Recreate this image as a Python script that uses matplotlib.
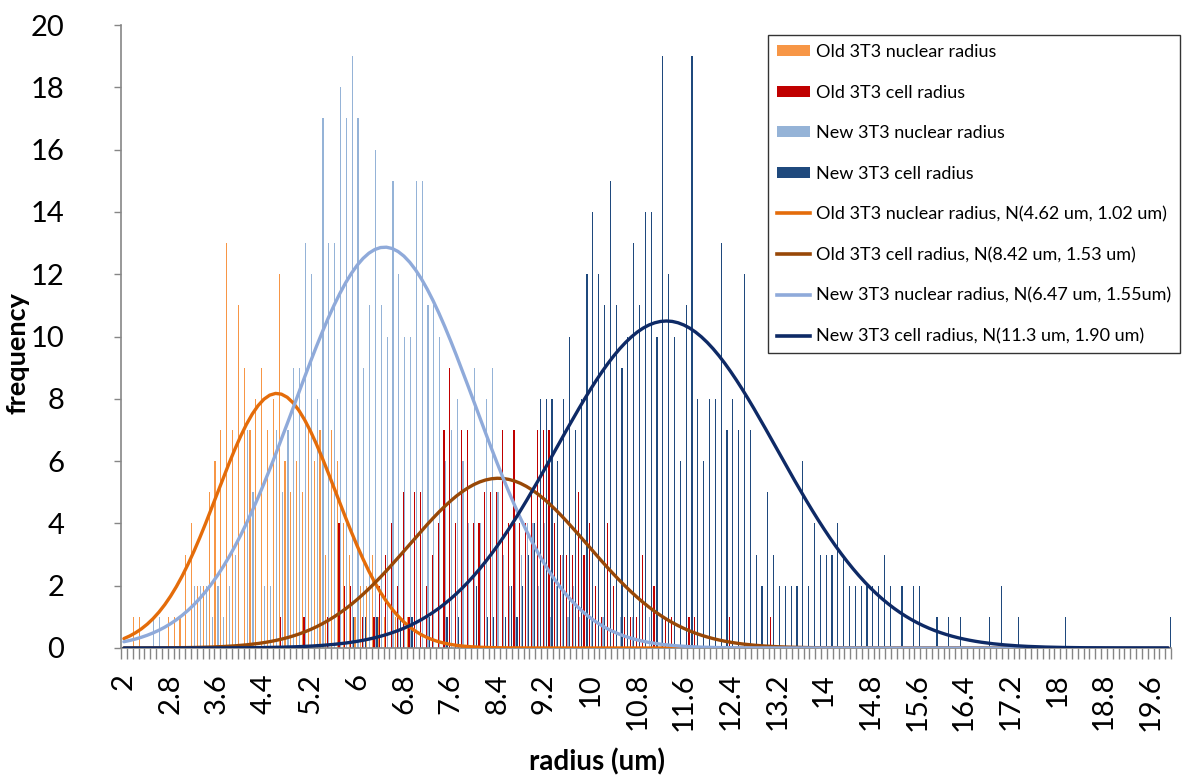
import numpy as np
import matplotlib
matplotlib.use("Agg")
import matplotlib.pyplot as plt
from matplotlib.patches import Patch
from matplotlib.lines import Line2D

plt.rcParams['font.family'] = ['Lato', 'DejaVu Sans']

# Histogram bins: 2.0 .. 19.9 um in 0.1 um steps (bin label = lower edge)
bin_start = 2.0
bin_width = 0.1
n_bins = 180
radius = np.round(bin_start + bin_width * np.arange(n_bins), 1)

# Counts per bin, keyed by bin radius (empty bins omitted)
old_nuclear_counts = {
    2.2: 1, 2.3: 1, 2.8: 1, 2.9: 1, 3.0: 1, 3.1: 3, 3.2: 4, 3.3: 2, 3.4: 2,
    3.5: 5, 3.6: 6, 3.7: 7, 3.8: 13, 3.9: 7, 4.0: 11, 4.1: 9, 4.2: 7, 4.3: 8,
    4.4: 9, 4.5: 7, 4.6: 8, 4.7: 12, 4.8: 6, 4.9: 5, 5.0: 6, 5.1: 5, 5.2: 7,
    5.3: 6, 5.4: 7, 5.5: 3, 5.6: 7, 5.7: 6, 5.8: 4, 5.9: 3, 6.0: 1, 6.1: 2,
    6.2: 2, 6.3: 3, 6.4: 1, 6.5: 1, 6.7: 1, 6.9: 1,
}
old_cell_counts = {
    4.7: 1, 5.1: 1, 5.5: 1, 5.7: 4, 5.8: 2, 5.9: 2, 6.1: 1, 6.3: 1, 6.4: 2,
    6.5: 3, 6.6: 4, 6.7: 2, 6.8: 5, 6.9: 1, 7.0: 5, 7.1: 5, 7.2: 2, 7.3: 3,
    7.4: 4, 7.5: 7, 7.6: 9, 7.7: 4, 7.8: 7, 7.9: 7, 8.0: 4, 8.1: 4, 8.2: 5,
    8.3: 5, 8.4: 5, 8.5: 7, 8.6: 4, 8.7: 7, 8.8: 4, 8.9: 4, 9.0: 5, 9.1: 7,
    9.2: 7, 9.3: 7, 9.4: 4, 9.5: 3, 9.6: 3, 9.7: 3, 9.8: 5, 9.9: 3, 10.0: 4,
    10.1: 2, 10.2: 1, 10.3: 4, 10.4: 2, 10.6: 1, 10.7: 1, 10.8: 1, 10.9: 3,
    11.1: 2, 11.3: 1, 11.4: 1, 11.7: 1, 11.8: 1, 12.4: 1, 13.1: 1,
}
new_nuclear_counts = {
    2.5: 1, 2.6: 1, 3.2: 2, 3.3: 2, 3.4: 2, 3.5: 1, 3.6: 2, 3.7: 1, 3.8: 2,
    3.9: 3, 4.1: 7, 4.2: 5, 4.4: 2, 4.5: 2, 4.6: 7, 4.7: 5, 4.8: 7, 4.9: 9,
    5.0: 9, 5.1: 13, 5.2: 12, 5.3: 8, 5.4: 17, 5.5: 13, 5.6: 13, 5.7: 18,
    5.8: 17, 5.9: 19, 6.0: 17, 6.1: 9, 6.2: 11, 6.3: 16, 6.4: 11, 6.5: 10,
    6.6: 15, 6.7: 12, 6.8: 10, 6.9: 10, 7.0: 15, 7.1: 15, 7.2: 11, 7.3: 11,
    7.4: 10, 7.5: 6, 7.6: 7, 7.7: 8, 7.8: 6, 7.9: 4, 8.0: 9, 8.1: 4, 8.2: 8,
    8.3: 9, 8.4: 5, 8.5: 3, 8.6: 2, 8.7: 4, 8.8: 3, 8.9: 4, 9.0: 4, 9.1: 2,
    9.2: 4, 9.3: 1, 9.4: 2, 9.5: 3, 9.6: 1, 9.7: 2, 9.8: 1, 10.0: 1, 10.2: 1,
    10.5: 1, 10.7: 1, 11.0: 1, 11.2: 1,
}
new_cell_counts = {
    5.9: 1, 6.1: 1, 6.3: 1, 6.7: 1, 6.9: 1, 7.2: 1, 7.5: 1, 7.7: 1, 8.0: 2,
    8.2: 1, 8.3: 1, 8.5: 1, 8.6: 2, 8.7: 1, 8.8: 2, 8.9: 3, 9.0: 4, 9.1: 8,
    9.2: 8, 9.3: 8, 9.4: 6, 9.5: 8, 9.6: 10, 9.7: 7, 9.8: 8, 9.9: 12,
    10.0: 14, 10.1: 12, 10.2: 11, 10.3: 15, 10.4: 11, 10.5: 9, 10.6: 10,
    10.7: 13, 10.8: 11, 10.9: 14, 11.0: 14, 11.1: 10, 11.2: 19, 11.3: 12,
    11.4: 10, 11.5: 6, 11.6: 11, 11.7: 19, 11.8: 8, 11.9: 6, 12.0: 8,
    12.1: 8, 12.2: 13, 12.3: 7, 12.4: 8, 12.5: 7, 12.6: 12, 12.7: 7, 12.8: 3,
    12.9: 2, 13.0: 5, 13.1: 3, 13.2: 2, 13.3: 2, 13.4: 2, 13.5: 2, 13.6: 6,
    13.7: 2, 13.8: 4, 13.9: 3, 14.0: 3, 14.1: 3, 14.2: 4, 14.3: 3, 14.4: 2,
    14.5: 2, 14.6: 2, 14.7: 2, 14.8: 2, 14.9: 2, 15.0: 3, 15.1: 2, 15.3: 2,
    15.5: 2, 15.6: 2, 15.9: 1, 16.1: 1, 16.3: 1, 16.8: 1, 17.0: 2, 17.3: 1,
    18.1: 1, 19.9: 1,
}

# Fitted normal distributions (mean, sd in um) and sample sizes
old_nuclear_fit = (4.62, 1.02)
old_cell_fit = (8.42, 1.53)
new_nuclear_fit = (6.47, 1.55)
new_cell_fit = (11.3, 1.90)
n_old = 209
n_new = 500

series_labels = ["Old 3T3 nuclear radius", "Old 3T3 cell radius",
                 "New 3T3 nuclear radius", "New 3T3 cell radius"]
fit_labels = ["Old 3T3 nuclear radius, N(4.62 um, 1.02 um)",
              "Old 3T3 cell radius, N(8.42 um, 1.53 um)",
              "New 3T3 nuclear radius, N(6.47 um, 1.55um)",
              "New 3T3 cell radius, N(11.3 um, 1.90 um)"]
bar_colors = ["#F79646", "#C00000", "#95B3D7", "#1F497D"]
legend_bar_colors = ["#F79646", "#C00000", "#95B3D7", "#1F497D"]
curve_colors = ["#E46C0A", "#984807", "#8FAADA", "#0E2A66"]


def to_array(counts):
    arr = np.zeros(n_bins)
    for r, c in counts.items():
        arr[int(round((r - bin_start) / bin_width))] = c
    return arr


def expected_counts(fit, n):
    mu, sd = fit
    pdf = np.exp(-0.5 * ((radius - mu) / sd) ** 2) / (sd * np.sqrt(2 * np.pi))
    return n * bin_width * pdf


hist = [to_array(old_nuclear_counts), to_array(old_cell_counts),
        to_array(new_nuclear_counts), to_array(new_cell_counts)]
curves = [expected_counts(old_nuclear_fit, n_old),
          expected_counts(old_cell_fit, n_old),
          expected_counts(new_nuclear_fit, n_new),
          expected_counts(new_cell_fit, n_new)]

W, H = 1193, 782
fig = plt.figure(figsize=(W / 100, H / 100), dpi=100)
ax = fig.add_axes([121 / W, 1 - 648 / H, 1050 / W, 623 / H])

pos = np.arange(n_bins)
offsets = [-0.375, -0.125, 0.125, 0.375]
for k in range(4):
    ax.bar(pos + offsets[k], hist[k], width=0.2, color=bar_colors[k],
           linewidth=0, zorder=2)
for k in range(4):
    ax.plot(pos, curves[k], color=curve_colors[k], lw=2.4, zorder=3,
            solid_capstyle='round')

ax.set_xlim(-0.5, n_bins - 0.5)
ax.set_ylim(0, 20)

axis_gray = "#868686"
for s in ("top", "right"):
    ax.spines[s].set_visible(False)
for s in ("left", "bottom"):
    ax.spines[s].set_color(axis_gray)
    ax.spines[s].set_linewidth(1.2)

ax.set_yticks(np.arange(0, 21, 2))
ax.tick_params(axis='y', direction='out', length=5, width=1, color=axis_gray,
               labelsize=21, pad=36)

label_idx = np.arange(0, n_bins, 8)
ax.set_xticks(label_idx)
ax.set_xticklabels([f"{radius[i]:g}" for i in label_idx], rotation=90,
                   va='top', ha='center')
ax.set_xticks(np.arange(n_bins + 1) - 0.5, minor=True)
ax.tick_params(axis='x', which='major', length=0, labelsize=21, pad=18)
ax.tick_params(axis='x', which='minor', direction='out', length=8, width=1,
               color=axis_gray)

fig.text(597 / W, 1 - 762 / H, "radius (um)", fontsize=20, fontweight='bold',
         ha='center', va='center')
fig.text(18 / W, 1 - 353 / H, "frequency", fontsize=19.5, fontweight='bold',
         rotation=90, ha='center', va='center')

handles = [Patch(facecolor=c, edgecolor='none') for c in legend_bar_colors]
handles += [Line2D([0], [0], color=c, lw=2.6) for c in curve_colors]
leg = fig.legend(handles, series_labels + fit_labels, loc='upper right',
                 bbox_to_anchor=(1180 / W, 1 - 35 / H),
                 bbox_transform=fig.transFigure, frameon=True, fancybox=False,
                 fontsize=13.0, handlelength=1.8, handleheight=0.55,
                 handletextpad=0.35, labelspacing=1.36, borderpad=0.5,
                 borderaxespad=0)
leg.get_frame().set_edgecolor('black')
leg.get_frame().set_linewidth(1.0)

fig.savefig("out.png", dpi=100)
